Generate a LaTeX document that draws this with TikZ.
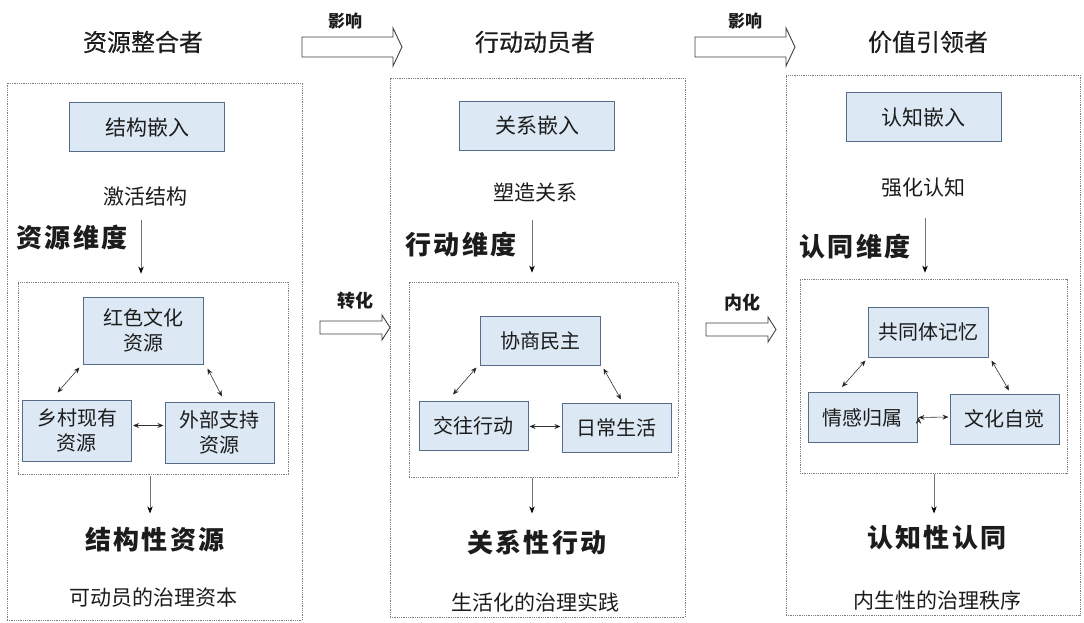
\documentclass[tikz,border=0pt]{standalone}
\usepackage{fontspec}
\setmainfont{Noto Sans CJK SC}
\usetikzlibrary{arrows.meta,calc,positioning}
\definecolor{boxfill}{RGB}{220,232,244}
\definecolor{boxline}{RGB}{88,108,138}
\definecolor{ink}{RGB}{28,28,28}
\definecolor{dotline}{RGB}{125,125,125}
\newcommand{\fsz}[1]{\fontsize{#1}{#1}\selectfont}

\begin{document}
\begin{tikzpicture}[x=1pt,y=-1pt,on grid,
    every node/.style={text=ink},
    panel/.style={draw=dotline,densely dotted,line width=0.8pt,inner sep=0pt},
    ebox/.style={draw=boxline,fill=boxfill,line width=1pt,inner sep=0pt,
      minimum width=155pt,minimum height=49pt,font=\fsz{21}},
    cbox/.style={ebox,minimum width=120pt,align=center,font=\fontsize{20}{25}\selectfont},
    sbox/.style={cbox,minimum width=109pt},
    title/.style={font=\fsz{24}\addfontfeature{FakeBold=0.5}},
    dim/.style={font=\bfseries\fsz{26}\addfontfeature{LetterSpace=8}},
    plain/.style={font=\fsz{21}},
    tag/.style={font=\bfseries\fsz{17}},
    hollow/.style={draw=black!75,fill=white,line width=0.9pt,line join=miter},
    link/.style={<->,>={Stealth[length=6pt,width=5pt]},draw=black!80,line width=0.6pt},
    flow/.style={-{Stealth[length=7pt,width=5.5pt,black]},draw=black!55,line width=0.7pt}]
    \useasboundingbox (0,0) rectangle (1084,623);

    % titles and the arrows between them
    \node[title] (t1) at (143,42) {资源整合者};
    \node[title] (t2) at (535,42) {行动动员者};
    \node[title] (t3) at (928,42) {价值引领者};
    \draw[hollow] (302,37) -- (393,37) -- (393,28) -- (402,47) -- (393,66) -- (393,57) -- (302,57) -- cycle;
    \draw[hollow] (695,37) -- (786,37) -- (786,28) -- (795,47) -- (786,66) -- (786,57) -- (695,57) -- cycle;
    \node[tag] (inf1) at (345,21) {影响};
    \node[tag] (inf2) at (745,21) {影响};

    % outer panels
    \node[panel,minimum width=295pt,minimum height=537pt] (pan1) at (154.5,351.5) {};
    \node[panel,minimum width=295pt,minimum height=539pt] (pan2) at (537.5,347.5) {};
    \node[panel,minimum width=294pt,minimum height=540pt] (pan3) at (933,345) {};
    \node[panel,minimum width=270pt,minimum height=192pt] (in1) at (153,378) {};
    \node[panel,minimum width=269pt,minimum height=195pt] (in2) at (543.5,379.5) {};
    \node[panel,minimum width=267pt,minimum height=194pt] (in3) at (933.5,376) {};

    % arrows between panels
    \draw[hollow] (320,321) -- (382,321) -- (382,315) -- (390,327.5) -- (382,340) -- (382,334) -- (320,334) -- cycle;
    \draw[hollow] (706,323) -- (768,323) -- (768,317) -- (776,329.5) -- (768,342) -- (768,336) -- (706,336) -- cycle;
    \node[tag,font=\bfseries\fsz{18}] (conv) at (355,301) {转化};
    \node[tag,font=\bfseries\fsz{18}] (intl) at (742,303) {内化};

    % embedding
    \node[ebox] (emb1) at (147,127.5) {结构嵌入};
    \node[ebox] (emb2) at (537,126)   {关系嵌入};
    \node[ebox] (emb3) at (923.5,117.5) {认知嵌入};
    \node[plain] (act1) at (145,197) {激活结构};
    \node[plain] (act2) at (535,193) {塑造关系};
    \node[plain] (act3) at (923,188) {强化认知};
    \node[dim] (dim1) at (72,238)  {资源维度};
    \node[dim] (dim2) at (461,245) {行动维度};
    \node[dim] (dim3) at (855,247) {认同维度};

    % triangles
    \node[cbox,minimum height=67pt] (core1) at (143,330.5) {红色文化\\资源};
    \node[sbox,minimum height=61pt] (left1)  [below left=100pt and 66pt of core1]  {乡村现有\\资源};
    \node[sbox,minimum height=61pt] (right1) [below right=102pt and 76.5pt of core1] {外部支持\\资源};
    \node[cbox] (core2) at (540,340.5) {协商民主};
    \node[sbox] (left2)  [below left=85pt and 66.5pt of core2]  {交往行动};
    \node[sbox] (right2) [below right=87pt and 76.5pt of core2] {日常生活};
    \node[cbox,minimum height=50pt] (core3) at (928,332) {共同体记忆};
    \node[sbox,minimum height=50pt] (left3)  [below left=85.5pt and 65.5pt of core3]  {情感归属};
    \node[sbox,minimum height=50pt] (right3) [below right=87pt and 76.5pt of core3] {文化自觉};

    % outcomes
    \node[dim] (res1) at (155,540) {结构性资源};
    \node[dim] (res2) at (537,542) {关系性行动};
    \node[dim] (res3) at (937,538) {认知性认同};
    \node[plain] (gov1) at (153,598) {可动员的治理资本};
    \node[plain] (gov2) at (535,602) {生活化的治理实践};
    \node[plain] (gov3) at (937,600) {内生性的治理秩序};

    \path[link]
    % left diagonals
    ($(core1.south west)+(-3,3)$) edge ($(left1.north)+(-19.5,-7)$)
    ($(core2.south west)+(-3,2)$) edge ($(left2.north)+(-20.5,-6)$)
    ($(core3.south west)+(-2,3)$) edge ($(left3.north)+(-20.5,-5)$)
    % right diagonals
    ($(core1.south east)+(4,4)$) edge ($(right1.north)+(2.5,-5)$)
    ($(core2.south east)+(3,3)$) edge ($(right2.north)+(4.5,-3)$)
    ($(core3.south east)+(3,3)$) edge ($(right3.north)+(4.5,-3)$)
    % horizontal
    ($(left1.east)+(1,-5)$) edge ($(right1.west)+(-1,-7)$)
    ($(left2.east)+(1,1)$)  edge ($(right2.west)+(-1,-1)$)
    ($(left3.east)+(1,0)$)  edge ($(right3.west)+(-1,-2)$);

    % down the panels
    \draw[flow] ($(in1.north)+(-12,-62)$) -- ($(in1.north)+(-12,-8)$);
    \draw[flow] ($(in2.north)+(-11.5,-62)$) -- ($(in2.north)+(-11.5,-9)$);
    \draw[flow] ($(in3.north)+(-8.5,-61)$) -- ($(in3.north)+(-8.5,-6)$);
    \draw[flow] (in1.south) ++(-3,2) -- ($(in1.south)+(-3,39)$);
    \draw[flow] (in2.south) ++(-11.5,1) -- ($(in2.south)+(-11.5,36)$);
    \draw[flow] (in3.south) ++(0.5,1) -- ($(in3.south)+(0.5,40)$);
\end{tikzpicture}
\end{document}
